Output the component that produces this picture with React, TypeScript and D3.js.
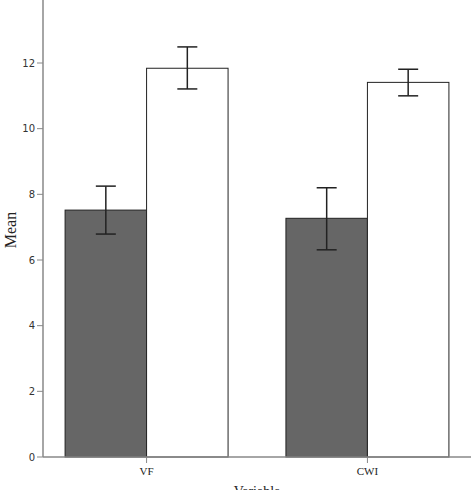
import React from "react";
import * as d3 from "d3";

const categories = ["VF", "CWI"];
const groups = ["g1", "g2"];
const means = [
  [7.52, 11.84],
  [7.27, 11.41],
];
const errLow = [
  [6.79, 11.21],
  [6.31, 11.0],
];
const errHigh = [
  [8.25, 12.49],
  [8.2, 11.81],
];
const yTicks = [0, 2, 4, 6, 8, 10, 12];
const fills = ["#666666", "#ffffff"];

export default function App() {
  const W = 476;
  const H = 490;
  const x0 = 43;
  const x1 = 471;
  const yBase = 457;
  const y = d3.scaleLinear().domain([0, 12]).range([yBase, 63]);
  const xb = d3
    .scaleBand<string>()
    .domain(categories)
    .range([x0, x1])
    .paddingInner(0.262)
    .paddingOuter(0.1);
  const xg = d3.scaleBand<string>().domain(groups).range([0, xb.bandwidth()]);
  const font = "'Liberation Serif', 'DejaVu Serif', serif";
  const sans = "'DejaVu Sans', 'Liberation Sans', sans-serif";
  const capW = 20;

  return (
    <svg
      width={W}
      height={H}
      style={{ position: "fixed", top: 0, left: 0, background: "#fff" }}
      fontFamily={font}
    >
      <rect width={W} height={H} fill="#fff" />
      {categories.map((c, ci) =>
        groups.map((g, gi) => {
          const bx = (xb(c) as number) + (xg(g) as number);
          const bw = xg.bandwidth();
          const cx = bx + bw / 2;
          return (
            <g key={c + g}>
              <rect
                x={bx}
                y={y(means[ci][gi])}
                width={bw}
                height={yBase - y(means[ci][gi])}
                fill={fills[gi]}
                stroke="#222"
                strokeWidth={1}
              />
              <line x1={cx} x2={cx} y1={y(errLow[ci][gi])} y2={y(errHigh[ci][gi])} stroke="#222" strokeWidth={1.5} />
              <line x1={cx - capW / 2} x2={cx + capW / 2} y1={y(errLow[ci][gi])} y2={y(errLow[ci][gi])} stroke="#222" strokeWidth={1.5} />
              <line x1={cx - capW / 2} x2={cx + capW / 2} y1={y(errHigh[ci][gi])} y2={y(errHigh[ci][gi])} stroke="#222" strokeWidth={1.5} />
            </g>
          );
        })
      )}
      {/* y axis */}
      <line x1={x0} x2={x0} y1={0} y2={yBase} stroke="#888" strokeWidth={1.5} />
      {yTicks.map((t) => (
        <g key={t}>
          <line x1={x0 - 6} x2={x0} y1={y(t)} y2={y(t)} stroke="#888" strokeWidth={1} />
          <text x={x0 - 8} y={y(t)} dy="0.35em" textAnchor="end" fontSize={10} fontFamily={sans} fill="#333">
            {t}
          </text>
        </g>
      ))}
      {/* x axis */}
      <line x1={x0} x2={x1} y1={yBase} y2={yBase} stroke="#888" strokeWidth={1.5} />
      {categories.map((c) => {
        const cx = (xb(c) as number) + xb.bandwidth() / 2;
        return (
          <g key={c}>
            <line x1={cx} x2={cx} y1={yBase} y2={yBase + 6} stroke="#888" strokeWidth={1} />
            <text x={cx} y={yBase + 18} textAnchor="middle" fontSize={11} fill="#222">
              {c}
            </text>
          </g>
        );
      })}
      <text x={(x0 + x1) / 2} y={496} textAnchor="middle" fontSize={14} fill="#222">
        Variable
      </text>
      <text
        transform={`translate(16, 230) rotate(-90)`}
        textAnchor="middle"
        fontSize={16}
        fill="#222"
      >
        Mean
      </text>
    </svg>
  );
}
